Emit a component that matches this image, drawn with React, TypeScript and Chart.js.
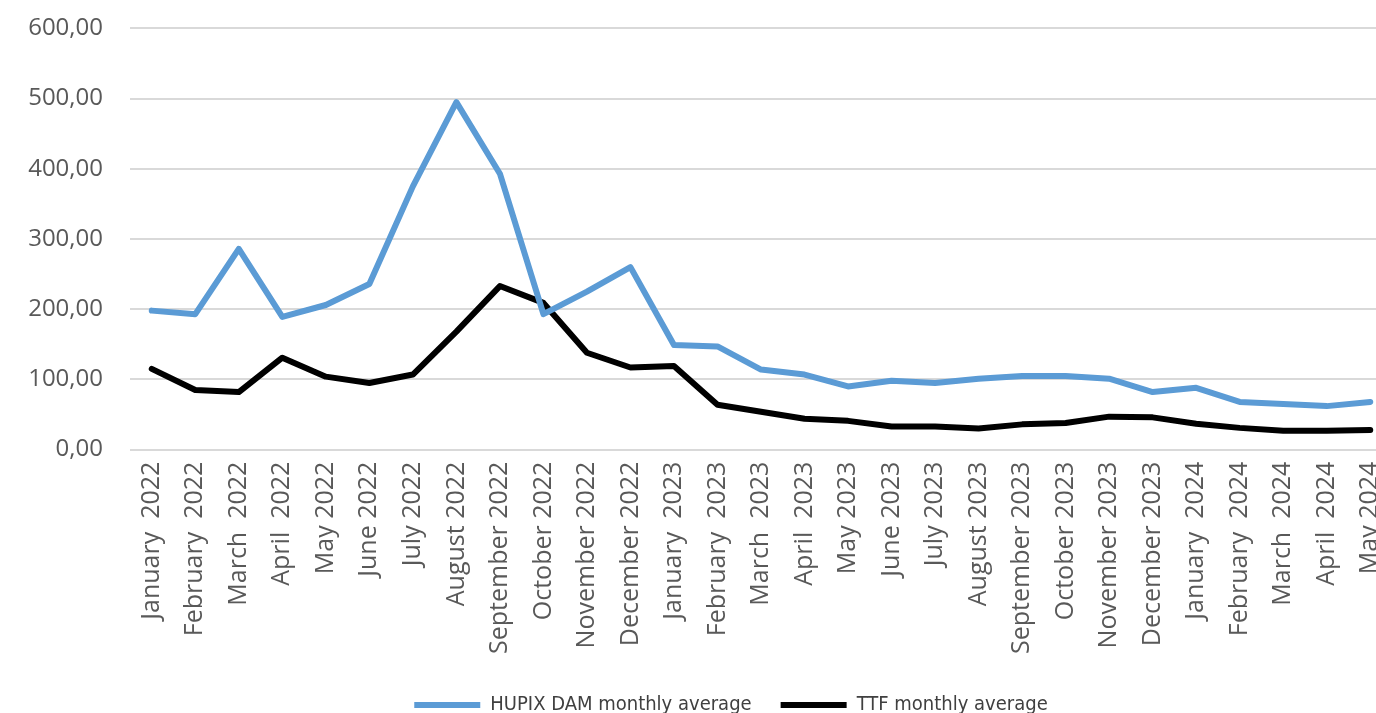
import { useEffect, useRef } from 'react';
import { Chart, registerables } from 'chart.js';

Chart.register(...registerables);

const categories = [
  'January  2022', 'February  2022', 'March  2022', 'April  2022', 'May 2022', 'June 2022',
  'July 2022', 'August 2022', 'September 2022', 'October 2022', 'November 2022', 'December 2022',
  'January  2023', 'February  2023', 'March  2023', 'April  2023', 'May 2023', 'June 2023',
  'July 2023', 'August 2023', 'September 2023', 'October 2023', 'November 2023', 'December 2023',
  'January  2024', 'February  2024', 'March  2024', 'April  2024', 'May 2024',
];

const hupixDam = [
  198, 193, 286, 189, 206, 236, 375, 495, 393, 193, 225, 260,
  149, 147, 114, 107, 90, 98, 95, 101, 105, 105, 101, 82,
  88, 68, 65, 62, 68,
];

const ttf = [
  115, 85, 82, 131, 104, 95, 107, 168, 233, 209, 138, 117,
  119, 64, 54, 44, 41, 33, 33, 30, 36, 38, 47, 46,
  37, 31, 27, 27, 28,
];

const yMin = 0;
const yMax = 600;
const yStep = 100;

const seriesNames = ['HUPIX DAM monthly average', 'TTF monthly average'];

const W = 1462;
const H = 738;

export default function App() {
  const canvasRef = useRef<HTMLCanvasElement | null>(null);

  useEffect(() => {
    const canvas = canvasRef.current;
    if (!canvas) return;
    const yTickFont = { family: "'Open Sans', 'Noto Sans', sans-serif", size: 24 };
    const xTickFont = { family: "'Open Sans', 'Noto Sans', sans-serif", size: 25 };
    const chart = new Chart(canvas, {
      type: 'line',
      data: {
        labels: categories,
        datasets: [
          {
            label: seriesNames[0],
            data: hupixDam,
            borderColor: '#5B9BD5',
            backgroundColor: '#5B9BD5',
            borderWidth: 6,
            borderCapStyle: 'round',
            borderJoinStyle: 'round',
            pointRadius: 0,
            tension: 0,
          },
          {
            label: seriesNames[1],
            data: ttf,
            borderColor: '#000000',
            backgroundColor: '#000000',
            borderWidth: 6,
            borderCapStyle: 'round',
            borderJoinStyle: 'round',
            pointRadius: 0,
            tension: 0,
          },
        ],
      },
      options: {
        responsive: false,
        animation: false,
        layout: { padding: { left: 0, right: 0, top: 14, bottom: 0 } },
        plugins: {
          tooltip: { enabled: false },
          legend: {
            position: 'bottom',
            labels: {
              usePointStyle: true,
              pointStyle: 'line',
              pointStyleWidth: 66,
              boxHeight: 6,
              padding: 29,
              color: '#404040',
              font: { family: "'Liberation Sans Narrow', 'DejaVu Sans Condensed', 'Roboto', sans-serif", size: 20 },
            },
          },
        },
        scales: {
          x: {
            offset: true,
            grid: { display: false, drawTicks: false },
            border: { display: false },
            ticks: {
              autoSkip: false,
              minRotation: 90,
              maxRotation: 90,
              padding: 12,
              color: '#595959',
              font: xTickFont,
            },
          },
          y: {
            min: yMin,
            max: yMax,
            afterFit: (scale: any) => {
              scale.width = 130;
            },
            grid: { color: '#D9D9D9', lineWidth: 2, drawTicks: false },
            border: { display: false },
            ticks: {
              stepSize: yStep,
              padding: 27,
              color: '#595959',
              font: yTickFont,
              callback: (v: any) => Number(v).toFixed(2).replace('.', ','),
            },
          },
          yRight: {
            position: 'right',
            min: yMin,
            max: yMax,
            afterFit: (scale: any) => {
              scale.width = 70;
            },
            grid: { display: false, drawTicks: false },
            border: { display: false },
            ticks: { display: false },
          },
        },
      },
    });
    return () => chart.destroy();
  }, []);

  return (
    <div style={{ position: 'fixed', left: 0, top: -13, width: W, height: H, background: '#fff' }}>
      <canvas ref={canvasRef} width={W} height={H} />
    </div>
  );
}
